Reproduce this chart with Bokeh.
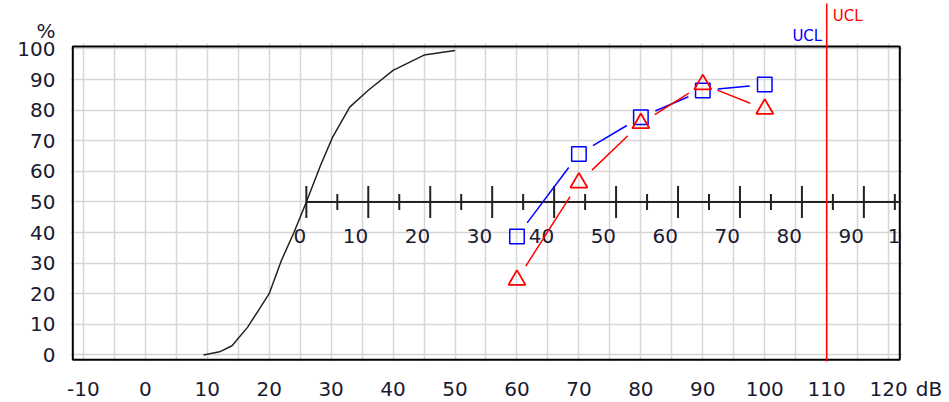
import math
from bokeh.plotting import figure
from bokeh.models import Range1d, FixedTicker, LinearAxis, Label, Grid
from bokeh.core.properties import value
from bokeh.embed import file_html
from bokeh.resources import INLINE

# ---------------- data ----------------
norm_db = [9.4, 12, 14, 16.5, 20, 22, 24, 26, 28.3, 30.2, 33, 36, 40, 45, 50]
norm_pct = [0, 1, 3, 9, 20, 31, 40, 50, 62, 71, 81, 86.5, 93, 98, 99.5]
levels_db = [60, 70, 80, 90, 100]
blue_pct = [38.7, 65.7, 77.7, 86.4, 88.4]
red_pct = [24.5, 56.3, 75.7, 88.4, 80.4]
ucl_db = 110
x_ticks = list(range(-10, 121, 10))
x_minor = list(range(-5, 120, 10))
y_ticks = list(range(0, 101, 10))
x_unit, x_unit_pos = "dB", 126.5
y_unit, y_unit_pos = "%", 106
rel_zero_db = 26          # 0 of the relative scale sits at 26 dB
rel_axis_pct = 50         # relative scale drawn at 50 %
rel_major = list(range(0, 101, 10))
rel_minor = list(range(5, 100, 10))

# ---------------- style / geometry ----------------
FONT = "DejaVu Sans"
TXT = "#1a1a30"
GRID = "#d6d6d6"
BLUE = "#0000ff"
RED = "#ff0000"
INK = "#222222"

# visual plot box (the drawn black frame)
x_vis_lo, x_vis_hi = -11.7, 121.8
y_vis_lo, y_vis_hi = -1.6, 100.8
VIS_L, VIS_R, VIS_T, VIS_B = 72.3, 899.3, 46.0, 359.3
PXX = (VIS_R - VIS_L) / (x_vis_hi - x_vis_lo)
PXY = (VIS_B - VIS_T) / (y_vis_hi - y_vis_lo)

# bokeh frame (larger than the visual box so that outer texts are not clipped)
BL, FW, FH = 70, 879, 361
x_lo = x_vis_lo - (VIS_L - BL) / PXX
x_hi = x_lo + FW / PXX
y_hi = y_vis_hi + VIS_T / PXY
y_lo = y_hi - FH / PXY

p = figure(frame_width=FW, frame_height=FH, output_backend="svg", toolbar_location=None,
           x_range=Range1d(x_lo, x_hi), y_range=Range1d(y_lo, y_hi),
           x_axis_location=None, y_axis_location=None,
           min_border_left=BL, min_border_right=0,
           min_border_top=0, min_border_bottom=0)
p.background_fill_color = "white"
p.border_fill_color = "white"
p.outline_line_color = None
p.grid.visible = False

# ---------------- axes (labels only) ----------------
bottom = LinearAxis(ticker=FixedTicker(ticks=x_ticks + [x_unit_pos]))
bottom.major_label_overrides = {**{t: str(t) for t in x_ticks}, x_unit_pos: x_unit}
left = LinearAxis(ticker=FixedTicker(ticks=y_ticks + [y_unit_pos]))
left.major_label_overrides = {**{t: str(t) for t in y_ticks}, y_unit_pos: y_unit}
for ax in (bottom, left):
    ax.axis_line_color = None
    ax.major_tick_line_color = None
    ax.minor_tick_line_color = None
    ax.major_tick_in = 0
    ax.major_tick_out = 0
    ax.minor_tick_in = 0
    ax.minor_tick_out = 0
    ax.major_label_standoff = 15
    ax.major_label_text_font = FONT
    ax.major_label_text_font_size = "20px"
    ax.major_label_text_color = TXT
left.major_label_orientation = "horizontal"
p.add_layout(bottom, "below")
p.add_layout(left, "left")

# ---------------- grid (lines stop just outside the visual box) ----------------
gx_lo, gx_hi = x_lo, x_vis_hi + 3 / PXX
gy_lo, gy_hi = y_vis_lo - 2 / PXY, y_vis_hi + 3 / PXY
x_grid = sorted(x_ticks + x_minor)
try:
    p.add_layout(Grid(dimension=0, ticker=FixedTicker(ticks=x_grid),
                      cross_bounds=(gy_lo, gy_hi),
                      grid_line_color=GRID, grid_line_width=1.5))
    p.add_layout(Grid(dimension=1, ticker=FixedTicker(ticks=y_ticks),
                      cross_bounds=(gx_lo, gx_hi),
                      grid_line_color=GRID, grid_line_width=1.5))
except Exception:
    p.renderers = [r for r in p.renderers if not isinstance(r, Grid)]
    p.center = [r for r in p.center if not isinstance(r, Grid)]
    p.segment(x0=x_grid, y0=[gy_lo] * len(x_grid), x1=x_grid, y1=[gy_hi] * len(x_grid),
              line_color=GRID, line_width=1.5, level="underlay")
    p.segment(x0=[gx_lo] * len(y_ticks), y0=y_ticks, x1=[gx_hi] * len(y_ticks), y1=y_ticks,
              line_color=GRID, line_width=1.5, level="underlay")

# visual frame
p.quad(left=[x_vis_lo], right=[x_vis_hi], bottom=[y_vis_lo], top=[y_vis_hi],
       fill_color=None, line_color="black", line_width=2)

# ---------------- relative (secondary) scale at 50 % ----------------
maj_x = [rel_zero_db + t for t in rel_major]
min_x = [rel_zero_db + t for t in rel_minor]
p.segment(x0=[rel_zero_db], y0=[rel_axis_pct], x1=[x_vis_hi], y1=[rel_axis_pct],
          line_color=INK, line_width=2)
mx = [v for v in maj_x if v <= x_vis_hi]
nx = [v for v in min_x if v <= x_vis_hi]
p.scatter(x=mx, y=[rel_axis_pct] * len(mx), marker="dash", size=32,
          angle=math.pi / 2, line_color=INK, line_width=2)
p.scatter(x=nx, y=[rel_axis_pct] * len(nx), marker="dash", size=16,
          angle=math.pi / 2, line_color=INK, line_width=2)
p.text(x=maj_x, y=[rel_axis_pct] * len(maj_x), text=[str(t) for t in rel_major],
       text_align="right", text_baseline="middle", y_offset=34,
       text_font=value(FONT), text_font_size="20px", text_color=TXT)
# the relative labels are cut at the right edge of the box
p.quad(left=[x_vis_hi + 1.5 / PXX], right=[x_hi],
       bottom=[rel_axis_pct - 50 / PXY], top=[rel_axis_pct - 18 / PXY],
       fill_color="white", line_color=None)

# ---------------- normal curve ----------------
p.line(norm_db, norm_pct, line_color=INK, line_width=1.5)


# ---------------- measured series with gapped connectors ----------------
def gapped(xs, ys, half):
    x0, y0, x1, y1 = [], [], [], []
    for i in range(len(xs) - 1):
        dx = (xs[i + 1] - xs[i]) * PXX
        dy = (ys[i + 1] - ys[i]) * PXY
        L = math.hypot(dx, dy)
        ux, uy = dx / L, dy / L
        g = half / max(abs(ux), abs(uy)) + 7
        x0.append(xs[i] + ux * g / PXX)
        y0.append(ys[i] + uy * g / PXY)
        x1.append(xs[i + 1] - ux * g / PXX)
        y1.append(ys[i + 1] - uy * g / PXY)
    return x0, y0, x1, y1


bx0, by0, bx1, by1 = gapped(levels_db, blue_pct, 8)
rx0, ry0, rx1, ry1 = gapped(levels_db, red_pct, 8)
p.segment(x0=bx0, y0=by0, x1=bx1, y1=by1, line_color=BLUE, line_width=1.5)
p.segment(x0=rx0, y0=ry0, x1=rx1, y1=ry1, line_color=RED, line_width=1.5)
p.scatter(levels_db, blue_pct, marker="square", size=14.5, fill_color=None,
          line_color=BLUE, line_width=1.5)
p.scatter(levels_db, red_pct, marker="triangle", size=17, fill_color=None,
          line_color=RED, line_width=1.8)

# ---------------- UCL line and labels ----------------
p.segment(x0=[ucl_db], y0=[y_vis_lo - 2.4 / PXY], x1=[ucl_db], y1=[y_vis_hi + 43 / PXY],
          line_color=RED, line_width=1.5)
p.add_layout(Label(x=ucl_db, y=y_vis_hi, x_offset=6, y_offset=31, text="UCL",
                   text_align="left", text_baseline="middle", text_font=FONT,
                   text_font_size="15px", text_color=RED))
p.add_layout(Label(x=ucl_db, y=y_vis_hi, x_offset=-4.5, y_offset=11, text="UCL",
                   text_align="right", text_baseline="middle", text_font=FONT,
                   text_font_size="15px", text_color=BLUE))

open("out.html", "w").write(file_html(p, INLINE))
